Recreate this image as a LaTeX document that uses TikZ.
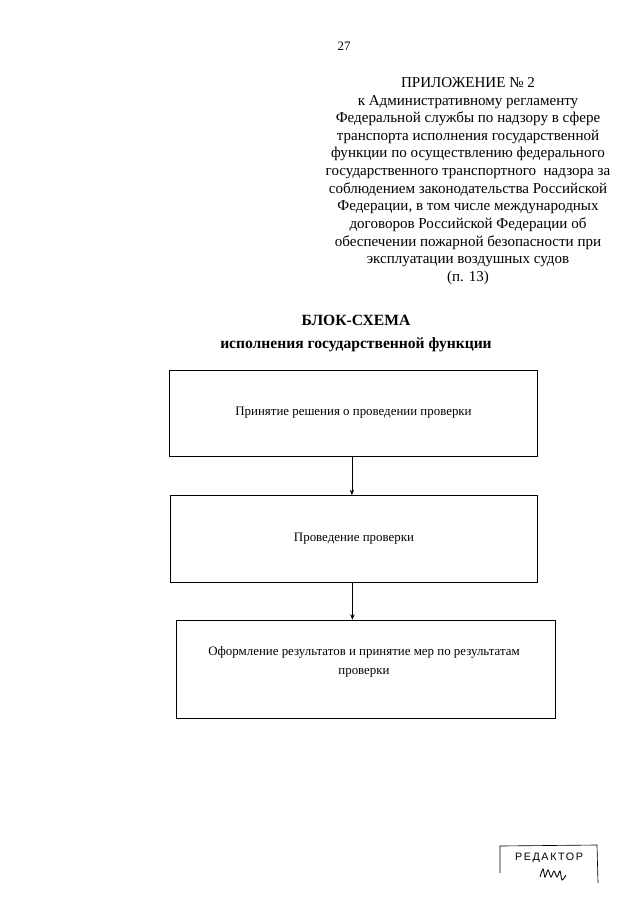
\documentclass[tikz,border=0pt]{standalone}
\usepackage{fontspec}
\setmainfont{Liberation Serif}
\newfontfamily\stampfont[LetterSpace=15]{Liberation Sans}
\usetikzlibrary{arrows.meta,positioning}

\begin{document}
\begin{tikzpicture}[x=0.93pt,y=-0.93pt,
 box/.style={draw,line width=.8pt,inner sep=0pt,align=center,
 font=\fontsize{12}{17.5}\selectfont},>={Stealth[length=5pt,width=4pt]}]
\useasboundingbox (0,0) rectangle (640,905);
\node (pg) at (344,46) {\fontsize{12}{14}\selectfont 27};
\node[align=center,font=\fontsize{14}{16.4}\selectfont] (app) at (468,181)
 {ПРИЛОЖЕНИЕ № 2\\к Административному регламенту\\Федеральной службы по надзору в сфере\\
 транспорта исполнения государственной\\функции по осуществлению федерального\\
 государственного транспортного\ \ надзора за\\соблюдением законодательства Российской\\
 Федерации, в том числе международных\\договоров Российской Федерации об\\
 обеспечении пожарной безопасности при\\эксплуатации воздушных судов\\(п. 13)};
\node[align=center,font=\bfseries\fontsize{14.5}{21.4}\selectfont] (title) at (356,333.5)
 {БЛОК-СХЕМА\\исполнения государственной функции};
\node[box,minimum width=342pt,minimum height=80pt] (a) at (353.5,413)
 {Принятие решения о проведении проверки};
\node[box,minimum width=342pt,minimum height=81pt] (b) at (354,539)
 {Проведение проверки};
\node[box,minimum width=353pt,minimum height=91pt] (c) at (366,669) {};
\node[align=center,font=\fontsize{12}{17.5}\selectfont] (ctext) at (364,662)
 {Оформление результатов и принятие мер по результатам\\проверки};
\foreach \s/\t in {a/b,b/c}
 \draw[->,line width=.6pt] ([xshift=-1.5pt]\s.south) -- ([xshift=-1.5pt]\s.south |- \t.north);
% stamp
\node[font=\stampfont\fontsize{10}{12}\selectfont] (stamp) at (549,858) {РЕДАКТОР};
\draw[line width=.6pt] (500,873) -- (500,846) -- (597,845) -- (598,883);
\draw[line width=.8pt] plot[smooth] coordinates {(540,877) (543,869) (545,877) (548,870)
 (551,877) (554,871) (557,877) (560,871) (562,880) (566,875)};
\end{tikzpicture}
\end{document}
